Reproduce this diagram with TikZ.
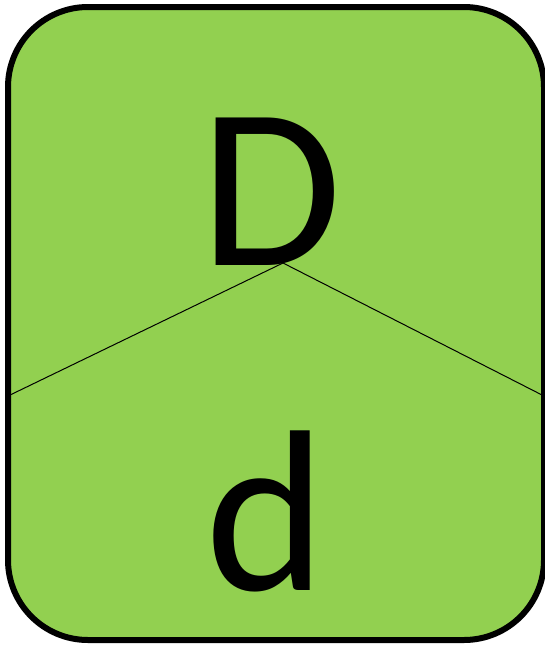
\documentclass[tikz,border=0pt]{standalone}
\usepackage{fontspec}
\setmainfont{Carlito}
\definecolor{cardgreen}{HTML}{92D050}
\begin{document}
\begin{tikzpicture}[x=1pt,y=-1pt,
  card/.style={line width=6pt, rounded corners=80pt},
  letter/.style={anchor=base, inner sep=0pt, font=\fontsize{230}{230}\selectfont},
  divider/.style={line width=1pt}]
\useasboundingbox (0,0) rectangle (544,645);
\fill[cardgreen, rounded corners=80pt] (8,7) rectangle (544,640);
\coordinate (peak) at (283,263);
\coordinate (lend) at (8,396);
\coordinate (rend) at (544,396);
\draw[divider] (lend) -- (peak) -- (rend);
\draw[card] (8,7) rectangle (544,640);
\node[letter] (big) at (271,265) {D};
\node[letter] (small) at (266,590) {d};
\end{tikzpicture}
\end{document}
